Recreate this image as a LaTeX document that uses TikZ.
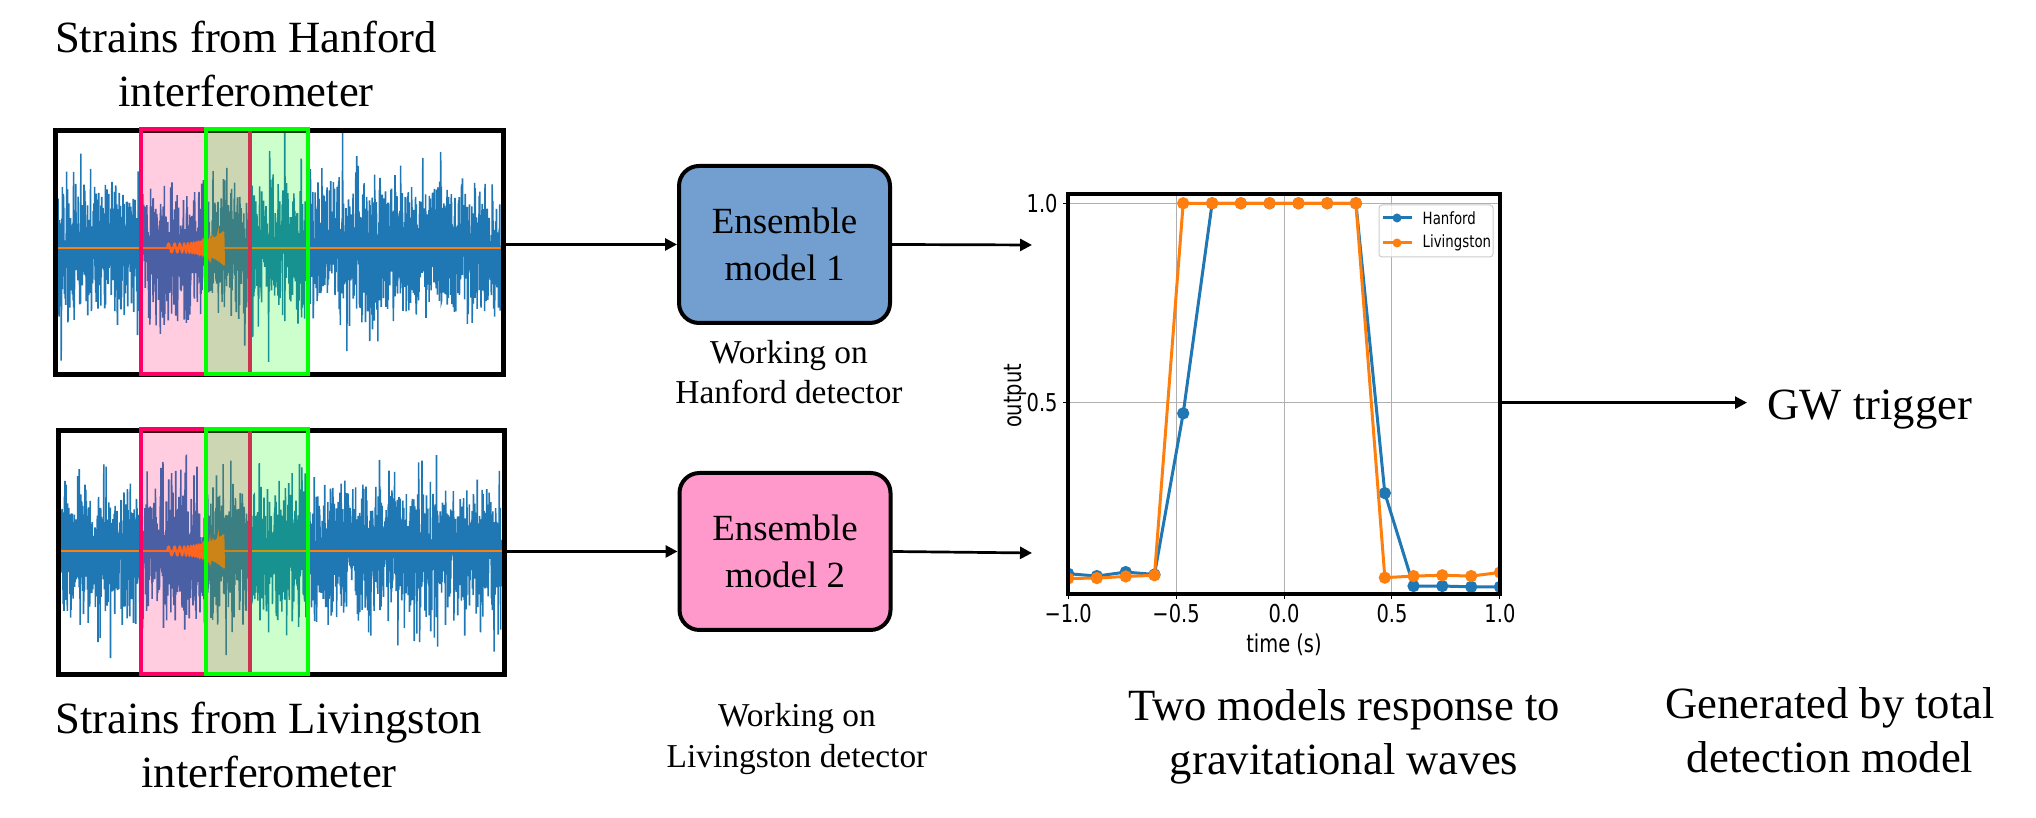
\documentclass[tikz,border=0pt]{standalone}
\usepackage{fontspec}
\setmainfont{Liberation Serif}
\newfontfamily\plotfont[FakeStretch=0.79]{DejaVu Sans}
\usepackage{tikz}
\usetikzlibrary{positioning, arrows.meta, calc}
\usepackage{xcolor}
\definecolor{sigblue}{HTML}{1F77B4}
\definecolor{sigorange}{HTML}{FF7F0E}
\definecolor{winred}{HTML}{FF0066}
\definecolor{wingreen}{HTML}{00FF00}
\definecolor{ensblue}{HTML}{729FCF}
\definecolor{enspink}{HTML}{FF99CC}
\definecolor{gridgray}{HTML}{B0B0B0}
\definecolor{leggray}{HTML}{CCCCCC}

\begin{document}
\begin{tikzpicture}[font=\rmfamily\fontsize{12.7}{15.4}\selectfont,
    arr/.style={-{Triangle[length=0.12cm, width=0.12cm]}, line width=0.027cm},
    strainbox/.style={draw, line width=0.05cm, minimum height=2.44cm, inner sep=0pt},
    redwin/.style={draw=winred, line width=0.04cm, fill=winred, fill opacity=0.2},
    greenwin/.style={draw=wingreen, line width=0.04cm, fill=wingreen, fill opacity=0.2},
    noise/.style={sigblue, line width=0.45pt},
    chirp/.style={sigorange, line width=0.02cm},
    ensbox/.style={draw, rounded corners=0.2cm, line width=0.04cm, minimum width=2.11cm,
      minimum height=1.57cm, align=center, font=\rmfamily\fontsize{10.5}{13.3}\selectfont},
    note/.style={align=center, font=\rmfamily\fontsize{9.5}{11.4}\selectfont},
    caption/.style={align=center},
    gridline/.style={gridgray, line width=0.01cm},
    hanline/.style={sigblue, line width=0.03cm},
    livline/.style={sigorange, line width=0.03cm},
    ticklabel/.style={font=\plotfont\fontsize{7}{8}\selectfont, inner sep=0.5pt},
    legtext/.style={font=\plotfont\fontsize{4.8}{5.5}\selectfont, inner sep=0.3mm, anchor=west}]
    \useasboundingbox (0,0) rectangle (20.36,8.18);
    \pgfmathsetseed{4242}

    % Hanford strain
    \begin{scope}
      \clip (0.58,4.46) rectangle (5.01,6.85);
      \draw[noise] plot[domain=0.58:5.01, samples=2500]
        (\x, {5.70+0.32*sqrt(-2*ln(rnd+0.0001))*cos(360*rnd)});
    \end{scope}
    \draw[chirp] (0.58,5.70) -- (5.01,5.70);
    \draw[chirp] plot[variable=\t, domain=0:1, samples=600]
      ({1.67+0.57*\t}, {5.70+(0.045+0.13*\t^4)*sin(360*(9*\t+20*\t^3))});
    \node[strainbox, minimum width=4.48cm] (hanford) at (2.795,5.655) {};
    \draw[redwin] (1.41,6.885) rectangle (2.50,4.435);
    \draw[greenwin] (2.06,6.885) rectangle (3.075,4.435);
    \node[caption] (hantitle) at (2.46,7.54) {Strains from Hanford\\interferometer};

    % Livingston strain
    \begin{scope}
      \clip (0.61,1.46) rectangle (5.02,3.85);
      \draw[noise] plot[domain=0.61:5.02, samples=2500]
        (\x, {2.67+0.32*sqrt(-2*ln(rnd+0.0001))*cos(360*rnd)});
    \end{scope}
    \draw[chirp] (0.61,2.67) -- (5.02,2.67);
    \draw[chirp] plot[variable=\t, domain=0:1, samples=600]
      ({1.67+0.57*\t}, {2.67+(0.045+0.13*\t^4)*sin(360*(9*\t+20*\t^3))});
    \node[strainbox, minimum width=4.46cm] (livingston) at (2.815,2.655) {};
    \draw[redwin] (1.41,3.885) rectangle (2.50,1.435);
    \draw[greenwin] (2.06,3.885) rectangle (3.08,1.435);
    \node[caption] (livtitle) at (2.69,0.73) {Strains from Livingston\\interferometer};

    % ensemble models
    \node[ensbox, fill=ensblue] (ens1) at (7.845,5.735) {Ensemble\\model 1};
    \node[ensbox, fill=enspink] (ens2) at (7.85,2.665) {Ensemble\\model 2};
    \node[note] (ens1note) at (7.89,4.46) {Working on\\Hanford detector};
    \node[note] (ens2note) at (7.97,0.79) {Working on\\Livingston detector};
    \coordinate (in1) at (10.32,5.73);
    \coordinate (in2) at (10.32,2.65);
    \draw[arr] (hanford.east |- ens1.west) -- (ens1.west);
    \draw[arr] (livingston.east |- ens2.west) -- (ens2.west);
    \draw[arr] (ens1.east) -- (in1);
    \draw[arr] (ens2.east) -- (in2);

    % captions on the right
    \node[caption] (respnote) at (13.44,0.815) {Two models response to\\gravitational waves};
    \node[anchor=west, inner xsep=0.2cm, inner ysep=0pt] (gw) at (17.47,4.085) {GW trigger};
    \node[caption] (gwnote) at (18.30,0.88) {Generated by total\\detection model};

    % response plot
    \begin{scope}[shift={(12.84,2.16)}, x=2.159cm, y=3.987cm]
      \draw[gridline] (-0.5,0.02) -- (-0.5,1.023) (0,0.02) -- (0,1.023) (0.5,0.02) -- (0.5,1.023)
        (-1,0.5) -- (1,0.5) (-1,1) -- (1,1);
      \begin{scope}
        \clip (-1,0.02) rectangle (1,1.023);
        \draw[hanline, mark=*, mark size=1.3pt, mark options={fill=sigblue}] plot coordinates {
          (-1,0.071) (-0.867,0.065) (-0.733,0.075) (-0.6,0.069) (-0.467,0.473) (-0.333,1)
          (-0.2,1) (-0.067,1) (0.067,1) (0.2,1) (0.333,1) (0.467,0.273) (0.6,0.040)
          (0.733,0.040) (0.867,0.038) (1,0.038)};
        \draw[livline, mark=*, mark size=1.3pt, mark options={fill=sigorange}] plot coordinates {
          (-1,0.059) (-0.867,0.060) (-0.733,0.064) (-0.6,0.067) (-0.467,1) (-0.333,1)
          (-0.2,1) (-0.067,1) (0.067,1) (0.2,1) (0.333,1) (0.467,0.061) (0.6,0.065)
          (0.733,0.067) (0.867,0.065) (1,0.074)};
      \end{scope}
      \draw[line width=0.033cm] (-1,0.02) rectangle (1,1.023);
      \draw[line width=0.01cm] (-1,0.02) -- ++(0,-0.05cm) (-0.5,0.02) -- ++(0,-0.05cm)
        (0,0.02) -- ++(0,-0.05cm) (0.5,0.02) -- ++(0,-0.05cm) (1,0.02) -- ++(0,-0.05cm)
        (-1,0.5) -- ++(-0.05cm,0) (-1,1) -- ++(-0.05cm,0);
      \node[ticklabel] (xt1) at (-1,-0.030) {−1.0};
      \node[ticklabel] (xt2) at (-0.5,-0.030) {−0.5};
      \node[ticklabel] (xt3) at (0,-0.030) {0.0};
      \node[ticklabel] (xt4) at (0.5,-0.030) {0.5};
      \node[ticklabel] (xt5) at (1,-0.030) {1.0};
      \node[ticklabel, anchor=east] (yt1) at (-1.0375,0.5) {0.5};
      \node[ticklabel, anchor=east] (yt2) at (-1.0375,1) {1.0};
      \node[ticklabel] (xlab) at (0,-0.108) {time (s)};
      \node[ticklabel, rotate=90] (ylab) at (-1.246,0.517) {output};
      \coordinate (plotout) at (1,0.5);
    \end{scope}

    % legend
    \draw[leggray, line width=0.01cm, fill=white, fill opacity=0.8, rounded corners=0.03cm]
      (13.79,5.61) rectangle (14.93,6.13);
    \draw[hanline] (13.83,6.00) -- (14.12,6.00);
    \fill[sigblue] (13.97,6.00) circle (0.045);
    \draw[livline] (13.83,5.75) -- (14.12,5.75);
    \fill[sigorange] (13.97,5.75) circle (0.045);
    \node[legtext] (hanleg) at (14.19,6.00) {Hanford};
    \node[legtext] (livleg) at (14.19,5.75) {Livingston};

    % trigger
    \draw[arr] (plotout) -- (plotout -| gw.west);
  \end{tikzpicture}
\end{document}
